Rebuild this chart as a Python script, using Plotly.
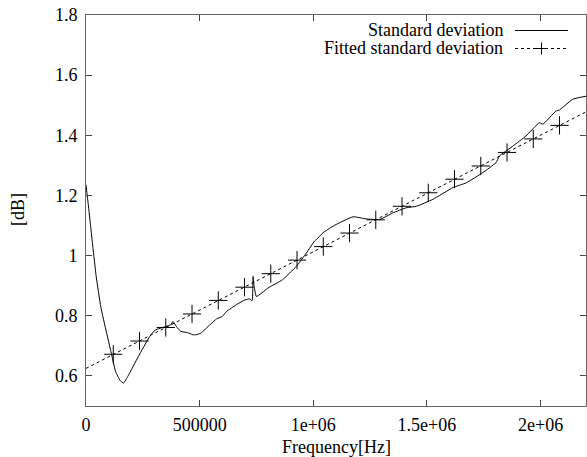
import plotly.graph_objects as go

# Standard deviation curve (Hz, dB)
std_freq = [0, 10000, 20000, 30000, 45000, 65000, 90000, 110000, 130000, 150000,
            165000, 185000, 230000, 280000, 305000, 350000, 373000, 383000, 398000,
            417000, 447000, 470000, 485000, 505000, 545000, 575000, 600000, 618000,
            662000, 700000, 720000, 731000, 735000, 740000, 750000, 800000, 865000,
            925000, 970000, 1005000, 1013000, 1043000, 1087000, 1175000, 1233000,
            1292000, 1350000, 1409000, 1453000, 1526000, 1614000, 1673000, 1746000,
            1804000, 1819000, 1878000, 1936000, 1995000, 2010000, 2068000, 2083000,
            2142000, 2200000]
std_val = [1.235, 1.17, 1.10, 1.03, 0.93, 0.83, 0.745, 0.68, 0.615, 0.585,
           0.576, 0.60, 0.664, 0.731, 0.753, 0.764, 0.77, 0.781, 0.764,
           0.748, 0.744, 0.737, 0.737, 0.742, 0.77, 0.79, 0.798, 0.814,
           0.837, 0.853, 0.856, 0.85, 0.931, 0.898, 0.864, 0.892, 0.92,
           0.964, 1.009, 1.048, 1.053, 1.076, 1.098, 1.129, 1.122,
           1.12, 1.142, 1.159, 1.164, 1.187, 1.226, 1.242, 1.276,
           1.309, 1.331, 1.364, 1.398, 1.442, 1.437, 1.481, 1.484,
           1.52, 1.53]

# Fitted line end points
fit_line_freq = [0, 2200000]
fit_line_val = [0.625, 1.478]

# Fitted markers
fit_mark_freq = [120000, 235500, 351000, 466500, 582000, 697500, 813000, 928500,
                 1044000, 1159500, 1275000, 1390500, 1506000, 1621500, 1737000,
                 1852500, 1968000, 2083500]
fit_mark_val = [0.672, 0.716, 0.761, 0.806, 0.851, 0.895, 0.940, 0.985,
                1.030, 1.075, 1.119, 1.164, 1.209, 1.254, 1.298,
                1.343, 1.388, 1.433]

x_tickvals = [0, 500000, 1000000, 1500000, 2000000]
x_ticktext = ["0", "500000", "1e+06", "1.5e+06", "2e+06"]
y_tickvals = [0.6, 0.8, 1.0, 1.2, 1.4, 1.6, 1.8]
y_ticktext = ["0.6", "0.8", "1", "1.2", "1.4", "1.6", "1.8"]

FONT = "Liberation Serif, Times New Roman, serif"
FS = 18

fig = go.Figure()
fig.add_trace(go.Scatter(x=std_freq, y=std_val, mode="lines",
                         line=dict(color="black", width=1, shape="spline", smoothing=0.4),
                         name="Standard deviation"))
fig.add_trace(go.Scatter(x=fit_line_freq, y=fit_line_val, mode="lines",
                         line=dict(color="black", width=1, dash="dot"),
                         name="Fitted standard deviation"))
fig.add_trace(go.Scatter(x=fit_mark_freq, y=fit_mark_val, mode="markers",
                         marker=dict(symbol="cross-thin-open", size=13, color="black",
                                     line=dict(color="black", width=1)),
                         showlegend=False))

L, R, T, B = 86, 1, 15, 51
W, H = 587, 457
pw, ph = W - L - R, H - T - B

def px(xp):
    return (xp - L) / pw

def py(yp):
    return (H - B - yp) / ph

legend_rows = [("Standard deviation", 30.5, "solid", False),
               ("Fitted standard deviation", 48.5, "dot", True)]
annotations = []
shapes = []
for text, ypix, dash, plus in legend_rows:
    annotations.append(dict(xref="paper", yref="paper", x=px(505), y=py(ypix),
                            xanchor="right", yanchor="middle", text=text,
                            showarrow=False, font=dict(family=FONT, size=FS, color="black")))
    shapes.append(dict(type="line", xref="paper", yref="paper",
                       x0=px(515), x1=px(568), y0=py(ypix), y1=py(ypix),
                       line=dict(color="black", width=1, dash=dash)))
    if plus:
        cx = 541.5
        shapes.append(dict(type="line", xref="paper", yref="paper",
                           x0=px(cx - 6), x1=px(cx + 6), y0=py(ypix), y1=py(ypix),
                           line=dict(color="black", width=1)))
        shapes.append(dict(type="line", xref="paper", yref="paper",
                           x0=px(cx), x1=px(cx), y0=py(ypix - 6), y1=py(ypix + 6),
                           line=dict(color="black", width=1)))

# axis titles
annotations.append(dict(xref="paper", yref="paper", x=px(336), y=py(447),
                        xanchor="center", yanchor="middle", text="Frequency[Hz]",
                        showarrow=False, font=dict(family=FONT, size=FS, color="black")))
annotations.append(dict(xref="paper", yref="paper", x=px(18), y=py(210),
                        xanchor="center", yanchor="middle", text="[dB]", textangle=-90,
                        showarrow=False, font=dict(family=FONT, size=FS, color="black")))

fig.update_layout(
    width=W, height=H,
    margin=dict(l=L, r=R, t=T, b=B, pad=0, autoexpand=False),
    paper_bgcolor="white", plot_bgcolor="white",
    showlegend=False,
    font=dict(family=FONT, size=FS, color="black"),
    annotations=annotations, shapes=shapes,
    xaxis=dict(range=[0, 2200000], tickvals=x_tickvals, ticktext=x_ticktext,
               showgrid=False, zeroline=False, showline=True, mirror="ticks",
               linecolor="#666", linewidth=1, ticks="inside", ticklen=6,
               tickcolor="#444", ticklabelstandoff=2, automargin=False,
               tickfont=dict(family=FONT, size=FS, color="black")),
    yaxis=dict(range=[0.5, 1.8], tickvals=y_tickvals, ticktext=y_ticktext,
               showgrid=False, zeroline=False, showline=True, mirror="ticks",
               linecolor="#666", linewidth=1, ticks="inside", ticklen=6,
               tickcolor="#444", ticklabelstandoff=4, automargin=False,
               tickfont=dict(family=FONT, size=FS, color="black")),
)

fig.write_html("out.html", config={"displayModeBar": False},
               post_script="document.body.style.margin='0';document.body.style.padding='0';")
